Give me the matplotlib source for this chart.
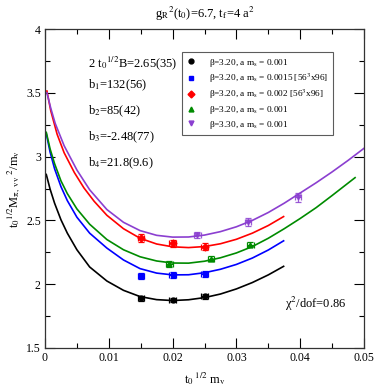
import matplotlib
matplotlib.use("Agg")
import matplotlib.pyplot as plt
from matplotlib.lines import Line2D
from matplotlib.ticker import MultipleLocator

plt.rcParams['font.family'] = ['Liberation Serif', 'DejaVu Serif']
plt.rcParams['mathtext.fontset'] = 'stix'

# --------- data points ---------
x_black = [0.015, 0.020, 0.025]
y_black = [1.889, 1.876, 1.907]
x_blue = [0.015, 0.020, 0.025]
y_blue = [2.064, 2.074, 2.080]
x_red = [0.015, 0.020, 0.025]
y_red = [2.364, 2.320, 2.294]
x_green = [0.0195, 0.026, 0.0322]
y_green = [2.158, 2.200, 2.310]
x_purple = [0.0239, 0.0318, 0.0397]
y_purple = [2.388, 2.487, 2.680]

yerr_black = [0.018, 0.018, 0.02]
yerr_blue = [0.025, 0.022, 0.025]
yerr_red = [0.03, 0.025, 0.025]
yerr_green = [0.02, 0.022, 0.022]
yerr_purple = [0.025, 0.03, 0.035]
xerr_pts = 0.0005

# --------- fit curves ---------
fx_black = [0.0002, 0.0008, 0.0015, 0.0025, 0.0035, 0.005, 0.007, 0.0097, 0.0123, 0.0149,
            0.0175, 0.02, 0.0225, 0.025, 0.0275, 0.03, 0.0325, 0.035, 0.0374]
fy_black = [2.86, 2.745, 2.635, 2.505, 2.40, 2.27, 2.135, 2.025, 1.952, 1.903,
            1.879, 1.872, 1.878, 1.895, 1.923, 1.963, 2.013, 2.073, 2.14]
fx_blue = [0.0002, 0.0008, 0.0015, 0.0025, 0.0035, 0.005, 0.007, 0.0097, 0.0123, 0.0149,
           0.0175, 0.02, 0.0225, 0.025, 0.0275, 0.03, 0.0325, 0.035, 0.0374]
fy_blue = [3.18, 3.035, 2.905, 2.765, 2.655, 2.525, 2.40, 2.283, 2.19, 2.122,
           2.087, 2.073, 2.074, 2.09, 2.117, 2.155, 2.205, 2.268, 2.34]
fx_green = [0.0002, 0.0008, 0.0015, 0.0025, 0.0035, 0.005, 0.007, 0.0097, 0.0123, 0.0149,
            0.0175, 0.02, 0.0225, 0.025, 0.0275, 0.03, 0.0325, 0.035, 0.0375, 0.04,
            0.0425, 0.045, 0.0486]
fy_green = [3.19, 3.06, 2.945, 2.81, 2.71, 2.59, 2.47, 2.35, 2.27, 2.215,
            2.182, 2.166, 2.165, 2.18, 2.207, 2.245, 2.295, 2.36, 2.435, 2.515,
            2.60, 2.695, 2.835]
fx_red = [0.0003, 0.0009, 0.0019, 0.003, 0.0046, 0.0061, 0.0077, 0.0097, 0.0123, 0.0149,
          0.0175, 0.02, 0.0225, 0.025, 0.0275, 0.03, 0.0325, 0.035, 0.0374]
fy_red = [3.514, 3.36, 3.175, 3.03, 2.875, 2.755, 2.65, 2.54, 2.435, 2.36,
          2.315, 2.293, 2.287, 2.295, 2.317, 2.352, 2.40, 2.46, 2.53]
fx_purple = [0.0003, 0.0009, 0.0016, 0.003, 0.005, 0.007, 0.0097, 0.0123, 0.0149, 0.0175,
             0.02, 0.0225, 0.025, 0.0275, 0.03, 0.0325, 0.035, 0.0375, 0.04, 0.0425,
             0.045, 0.0475, 0.05]
fy_purple = [3.50, 3.38, 3.26, 3.085, 2.895, 2.74, 2.585, 2.485, 2.42, 2.383,
             2.369, 2.37, 2.385, 2.412, 2.45, 2.50, 2.562, 2.635, 2.715, 2.795,
             2.88, 2.97, 3.065]

labels = ['β=3.20, a m$_\\mathrm{s}$ = 0.001',
          'β=3.20, a m$_\\mathrm{s}$ = 0.0015 [56$^3$x96]',
          'β=3.20, a m$_\\mathrm{s}$ = 0.002 [56$^3$x96]',
          'β=3.20, a m$_\\mathrm{s}$ = 0.001',
          'β=3.30, a m$_\\mathrm{s}$ = 0.001']

c_black, c_blue, c_red, c_green, c_purple = 'black', '#0000ff', '#ff0000', '#008b00', '#8b3fd0'

fig = plt.figure(figsize=(3.76, 3.86), dpi=100)
ax = fig.add_axes([45 / 376, 38 / 386, 319 / 376, 319 / 386])

series = [
    (x_black, y_black, yerr_black, fx_black, fy_black, c_black, 'o'),
    (x_blue, y_blue, yerr_blue, fx_blue, fy_blue, c_blue, 's'),
    (x_red, y_red, yerr_red, fx_red, fy_red, c_red, 'D'),
    (x_green, y_green, yerr_green, fx_green, fy_green, c_green, '^'),
    (x_purple, y_purple, yerr_purple, fx_purple, fy_purple, c_purple, 'v'),
]

handles = []
for xs, ys, ye, fx, fy, col, mk in series:
    ax.plot(fx, fy, color=col, lw=1.2)
    ax.errorbar(xs, ys, yerr=ye, xerr=xerr_pts, fmt=mk, color=col, ms=3.5,
                capsize=2.5, elinewidth=0.9, capthick=0.9, alpha=0.85 if col == c_purple else 1)
    handles.append(Line2D([], [], ls='none', marker=mk, color=col, ms=3.5))

ax.set_xlim(0, 0.05)
ax.set_ylim(1.5, 4)
ax.xaxis.set_minor_locator(MultipleLocator(0.005))
ax.yaxis.set_minor_locator(MultipleLocator(0.25))
ax.set_xticks([0, 0.01, 0.02, 0.03, 0.04, 0.05])
ax.set_xticklabels(['0', '0.01', '0.02', '0.03', '0.04', '0.05'])
ax.set_yticks([1.5, 2, 2.5, 3, 3.5, 4])
ax.set_yticklabels(['1.5', '2', '2.5', '3', '3.5', '4'])
ax.tick_params(which='both', direction='in', top=True, right=True, labelsize=8.5, width=0.8)
ax.tick_params(which='major', length=7, pad=3)
ax.tick_params(which='minor', length=3.5)
for sp in ax.spines.values():
    sp.set_linewidth(0.9)
    sp.set_color('#333333')

ax.set_title(r'g$_\mathrm{R}$$^2$(t$_0$)=6.7, t$_\mathrm{f}$=4 a$^2$', fontsize=9, pad=8)
ax.set_xlabel(r't$_0$$^{\ 1/2}$ m$_\mathrm{v}$', fontsize=9, labelpad=4)
ax.set_ylabel('t$_0$$^{1/2}$M$_{\\mathrm{π,\\ vv}}$$^{\\ 2}$/m$_\\mathrm{v}$', fontsize=9, labelpad=2)

txt = [r'2 t$_0$$^{1/2}$B=2.65(35)', r'b$_1$=132(56)', r'b$_2$=85(42)',
       r'b$_3$=-2.48(77)', r'b$_4$=21.8(9.6)']
ypos = [0.893, 0.824, 0.743, 0.661, 0.58]
for t, yy in zip(txt, ypos):
    ax.text(0.135, yy, t, transform=ax.transAxes, fontsize=9, va='center', ha='left')

ax.text(0.752, 0.138, 'χ$^2$/dof=0.86', transform=ax.transAxes, fontsize=9,
        va='center', ha='left')

leg = ax.legend(handles, labels, loc='upper left', bbox_to_anchor=(0.4285, 0.928),
                fontsize=6.7, frameon=True, fancybox=False, edgecolor='#333333',
                handlelength=1.0, handletextpad=1.4, labelspacing=0.3,
                borderpad=0.5, borderaxespad=0)
leg.get_frame().set_linewidth(0.8)

fig.savefig('out.png', dpi=100)
